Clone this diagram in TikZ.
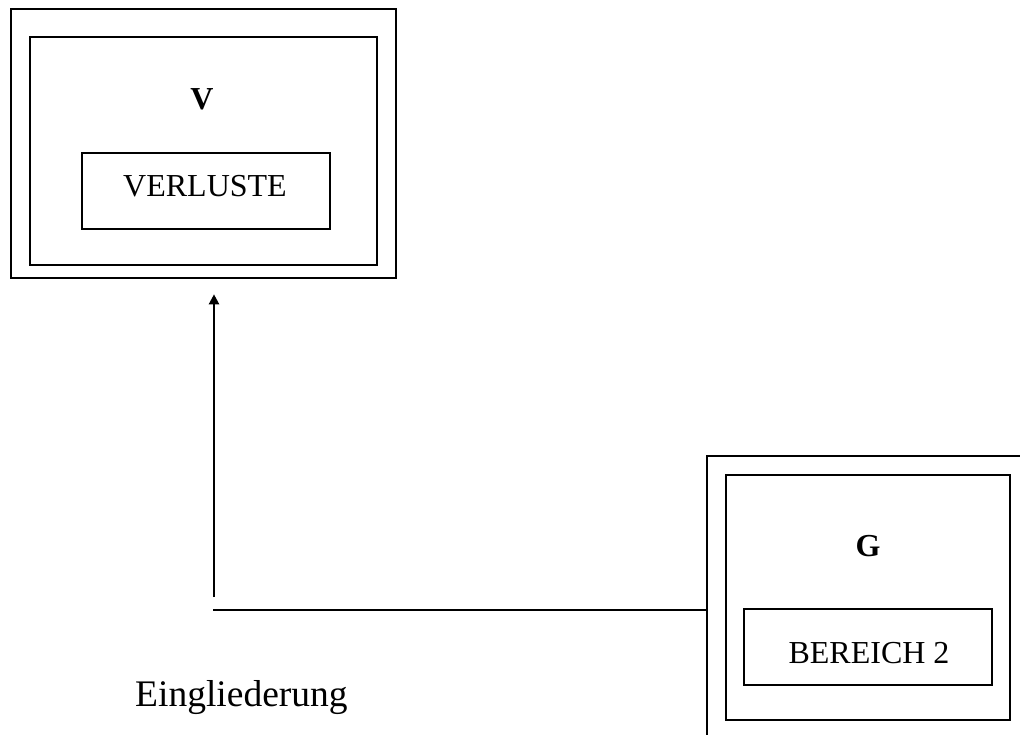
\documentclass[tikz,border=0pt]{standalone}
\usepackage{fontspec}
\setmainfont{Liberation Serif}
\usetikzlibrary{arrows.meta}
\tikzset{
  frame/.style={draw=black, line width=2.6pt, inner sep=0pt, minimum width=#1},
  label text/.style={font=\fontsize{32}{36}\selectfont, inner sep=0pt, anchor=base},
  title text/.style={font=\fontsize{32}{36}\selectfont\bfseries, inner sep=0pt, anchor=base},
  link/.style={draw=black, line width=2.2pt},
}
\begin{document}
\begin{tikzpicture}[x=1pt, y=-1pt]
  \useasboundingbox (0,0) rectangle (1020,735);
  \begin{scope}
    \clip (0,0) rectangle (1020,735);
    % loss block (top left)
    \node[frame=385pt, minimum height=269pt] (Vouter) at (203.5,143.5) {};
    \node[frame=347pt, minimum height=228pt] (Vinner) at (203.5,151) {};
    \node[frame=248pt, minimum height=76pt] (Vbox) at (206,191) {};
    \node[title text] (Vtitle) at (202,110) {V};
    \node[label text] (Vlabel) at (205,197) {VERLUSTE};
    % area block (bottom right, running off the page)
    \node[frame=333pt, minimum height=304pt] (Gouter) at (873.5,608) {};
    \node[frame=284pt, minimum height=245pt] (Ginner) at (868,597.5) {};
    \node[frame=248pt, minimum height=76pt] (Gbox) at (868,647) {};
    \node[title text] (Gtitle) at (868,556) {G};
    \node[label text] (Glabel) at (869,663) {BEREICH 2};
  \end{scope}
  % connectors
  \coordinate (jv) at (214,597);
  \coordinate (jh) at (213,610);
  \draw[link, -{Triangle[length=10pt, width=10pt]}, shorten >=15pt] (jv) -- (jv |- Vouter.south);
  \draw[link] (jh) -- (jh -| Gouter.west);
  \node[label text, anchor=base west, font=\fontsize{37.5}{42}\selectfont] (elabel) at (135,706) {Eingliederung};
\end{tikzpicture}
\end{document}
